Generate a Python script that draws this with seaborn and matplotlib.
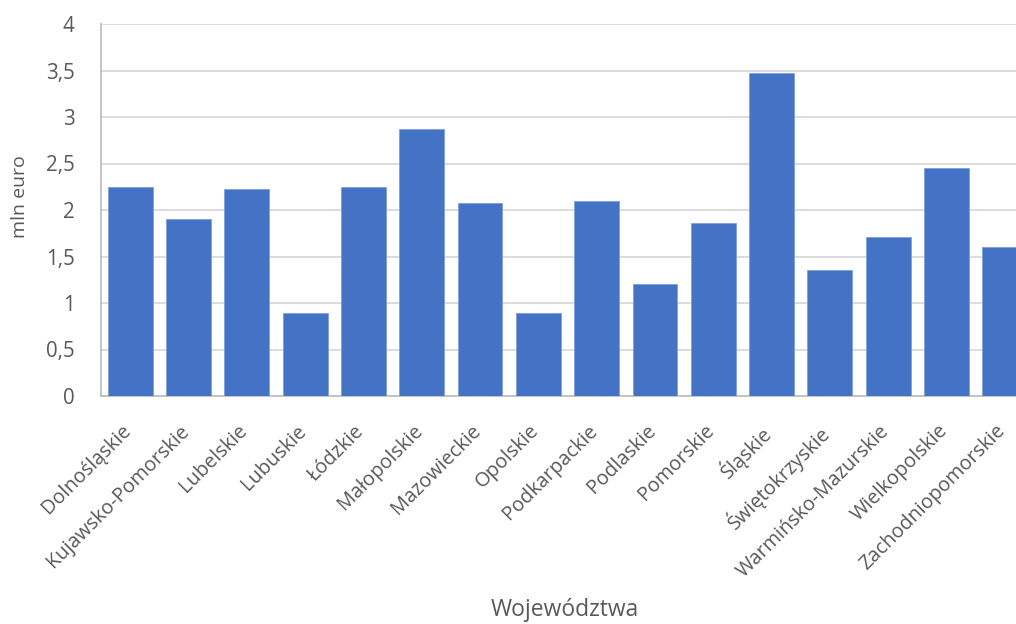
import matplotlib
matplotlib.use("Agg")
import matplotlib.pyplot as plt
import matplotlib.transforms as mtransforms
import seaborn as sns
import pandas as pd

regions = ["Dolnośląskie", "Kujawsko-Pomorskie", "Lubelskie", "Lubuskie", "Łódzkie",
           "Małopolskie", "Mazowieckie", "Opolskie", "Podkarpackie", "Podlaskie",
           "Pomorskie", "Śląskie", "Świętokrzyskie", "Warmińsko-Mazurskie",
           "Wielkopolskie", "Zachodniopomorskie"]
values = [2.25, 1.90, 2.23, 0.89, 2.25, 2.87, 2.08, 0.89, 2.10, 1.20,
          1.86, 3.47, 1.36, 1.71, 2.45, 1.60]
y_ticks = [0, 0.5, 1, 1.5, 2, 2.5, 3, 3.5, 4]
y_tick_labels = ["0", "0,5", "1", "1,5", "2", "2,5", "3", "3,5", "4"]

df = pd.DataFrame({"region": regions, "value": values})

sns.set_theme(style="white")
plt.rcParams["font.family"] = ["Open Sans", "DejaVu Sans"]

W, H = 1016, 624
fig = plt.figure(figsize=(W / 100, H / 100), dpi=100)
ax = fig.add_axes([101 / W, 1 - 396 / H, 933 / W, (396 - 24) / H])

sns.barplot(data=df, x="region", y="value", color="#4472C4", saturation=1,
            width=0.77, edgecolor="#7F9FDA", linewidth=0.6, ax=ax, zorder=3)

ax.set_ylim(0, 4)
ax.set_xlim(-0.5, len(regions) - 0.5)
ax.set_yticks(y_ticks)
ax.set_yticklabels(y_tick_labels)
ax.yaxis.grid(True, color="#D9D9D9", linewidth=1.3, zorder=0)
ax.set_axisbelow(True)

for side in ["top", "right"]:
    ax.spines[side].set_visible(False)
for side in ["left", "bottom"]:
    ax.spines[side].set_color("#BFBFBF")
    ax.spines[side].set_linewidth(1.3)

ax.tick_params(axis="y", length=0, pad=19, labelsize=14.8, labelcolor="#595959")
ax.tick_params(axis="x", length=0, pad=18, labelsize=14.3, labelcolor="#595959")

# nudge the slanted category labels so their right end sits under the bar centre
nudge = mtransforms.ScaledTranslation(5 / 100, 0, fig.dpi_scale_trans)
for lbl in ax.get_xticklabels():
    lbl.set_rotation(45)
    lbl.set_ha("right")
    lbl.set_va("top")
    lbl.set_rotation_mode("default")
    lbl.set_transform(lbl.get_transform() + nudge)

ax.set_ylabel("mln euro", fontsize=14, color="#595959")
ax.set_xlabel("Województwa", fontsize=16.5, color="#595959")
ax.yaxis.set_label_coords((20 - 101) / 933, (396 - 197) / 372)
ax.xaxis.set_label_coords((565 - 101) / 933, -(610 - 396) / 372)
ax.yaxis.label.set_va("center")
ax.xaxis.label.set_va("center")

fig.savefig("out.png", dpi=100)
